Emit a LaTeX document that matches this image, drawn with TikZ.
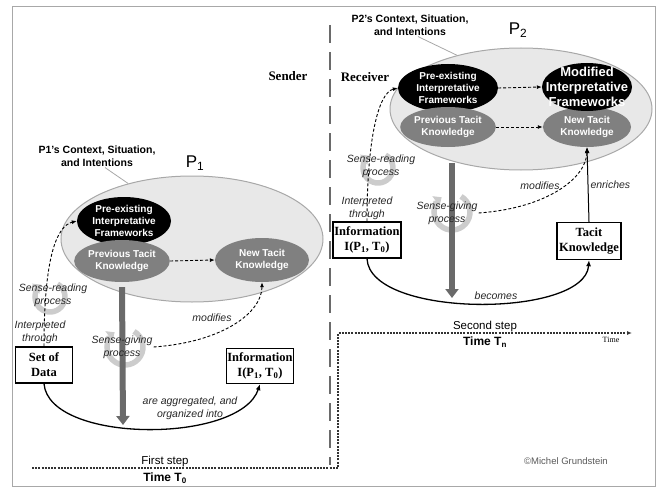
\documentclass[tikz,border=0pt]{standalone}
\usepackage{fontspec}
\setmainfont{Liberation Sans}
\newfontfamily\timesfont{Liberation Serif}
\usepackage{tikz}
\usetikzlibrary{shapes,arrows,positioning,calc,arrows.meta}

\definecolor{ctxfill}{HTML}{E8E8E8}
\definecolor{ctxline}{HTML}{A8A8A8}
\definecolor{tacitgray}{HTML}{808080}
\definecolor{bargray}{HTML}{6A6A6A}
\definecolor{icongray}{HTML}{CCCCCC}
\definecolor{lblgray}{HTML}{262626}

\tikzset{
  ctxell/.style={ellipse, draw=ctxline, fill=ctxfill, line width=1pt, inner sep=0pt},
  frameell/.style={ellipse, fill=black, text=white, inner sep=0pt, align=center,
    font=\bfseries\fontsize{10}{12}\selectfont},
  tacitell/.style={ellipse, fill=tacitgray, text=white, inner sep=0pt, align=center,
    font=\bfseries\fontsize{10}{12}\selectfont},
  modtxt/.style={text=white, align=center, inner sep=0pt,
    font=\bfseries\fontsize{13}{15}\selectfont},
  ctxlbl/.style={align=center, inner sep=1pt, font=\bfseries\fontsize{10.5}{13}\selectfont},
  plbl/.style={font=\fontsize{17}{19}\selectfont},
  databox/.style={draw, line width=1.4pt, fill=white, inner sep=1pt, align=center,
    font=\timesfont\bfseries\fontsize{12.5}{15}\selectfont},
  sidelbl/.style={font=\timesfont\bfseries\fontsize{13}{15}\selectfont},
  flowlbl/.style={text=lblgray, align=center, inner sep=1pt, font=\itshape\fontsize{10.5}{13}\selectfont},
  dasharrow/.style={dash pattern=on 3pt off 2pt, line width=0.9pt, -{Latex[length=5pt,width=4pt]}},
  solidarrow/.style={line width=1.3pt, -{Latex[length=6pt,width=5pt]}},
  bigarrow/.style={draw=bargray, line width=6pt, -{Triangle[length=9pt,width=13pt]}},
  cycicon/.style={draw=icongray, line width=5.5pt, -{Triangle[length=7pt,width=12pt]}},
  timeline/.style={dash pattern=on 2pt off 1.2pt, line width=1.1pt, draw=black!80},
}

\begin{document}
\begin{tikzpicture}[x=1pt, y=-1pt]
  \useasboundingbox (0,0) rectangle (659,487);
  \draw[ctxline, line width=1pt] (12,7) rectangle (655,486);

  % sender / receiver
  \coordinate (divtop) at (330,25);
  \coordinate (divbot) at (330,465);
  \draw[bargray, line width=2.5pt, dash pattern=on 18pt off 9pt] (divtop) -- (divbot);
  \node[sidelbl] (sender) at (288,76) {Sender};
  \node[sidelbl] (receiver) at (365,77) {Receiver};

  % P1
  \node[ctxell, minimum width=262pt, minimum height=126pt] (ctx1) at (192,239) {};
  \node[ctxlbl] (ctx1lbl) at (97,156) {P1's Context, Situation,\\and Intentions};
  \draw[ctxline, line width=0.8pt] ([xshift=8pt]ctx1lbl.south) -- (ctx1.139);
  \node[plbl] (p1) at (195,163) {P\textsubscript{1}};
  \node[frameell, minimum width=94pt, minimum height=48pt] (pre1) at (124,221) {Pre-existing\\Interpretative\\Frameworks};
  \node[tacitell, minimum width=92pt, minimum height=42pt] (prev1) at (122,261) {Previous Tacit\\Knowledge};
  \node[tacitell, minimum width=94pt, minimum height=44pt] (new1) at (262,260) {New Tacit\\Knowledge};

  % P2
  \node[ctxell, minimum width=262pt, minimum height=122pt] (ctx2) at (521,109) {};
  \node[ctxlbl] (ctx2lbl) at (410,25) {P2's Context, Situation,\\and Intentions};
  \draw[ctxline, line width=0.8pt] ([xshift=8pt]ctx2lbl.south) -- (ctx2.140);
  \node[plbl] (p2) at (518,30) {P\textsubscript{2}};
  \node[frameell, minimum width=100pt, minimum height=48pt] (pre2) at (448,88) {Pre-existing\\Interpretative\\Frameworks};
  \node[tacitell, minimum width=92pt, minimum height=40pt] (prev2) at (448,127) {Previous Tacit\\Knowledge};
  \node[tacitell, minimum width=88pt, minimum height=40pt] (new2) at (587,127) {New Tacit\\Knowledge};
  \node[frameell, minimum width=90pt, minimum height=48pt] (mod2) at (587,87) {};
  \node[modtxt] (mod2lbl) at (mod2) {Modified\\Interpretative\\Frameworks};

  % turning icons
  \coordinate (sr1c) at (50,297);
  \coordinate (sg1c) at (125,347);
  \coordinate (sr2c) at (378,168);
  \coordinate (sg2c) at (452,212);
  \draw[cycicon] (sr1c) ++(-60:15) arc[start angle=-60, end angle=235, radius=15];
  \draw[cycicon] (sg1c) ++(-60:18) arc[start angle=-60, end angle=235, radius=18];
  \draw[cycicon] (sr2c) ++(-60:15) arc[start angle=-60, end angle=235, radius=15];
  \draw[cycicon] (sg2c) ++(-60:18) arc[start angle=-60, end angle=235, radius=18];

  % sense-giving bars
  \coordinate (sgend1) at (123,425);
  \coordinate (sgtop2) at (452,163);
  \coordinate (sgend2) at (452,298);
  \draw[bigarrow] ([yshift=-5pt]prev1.south) -- (sgend1);
  \draw[bigarrow] (sgtop2) -- (sgend2);

  % boxes
  \node[databox, minimum width=57pt, minimum height=36pt] (setdata) at (44,365) {Set of\\Data};
  \node[databox, minimum width=67pt, minimum height=35pt] (info1) at (260,366) {Information\\I(P\textsubscript{1}, T\textsubscript{0})};
  \node[databox, minimum width=68pt, minimum height=36pt] (info2) at (367,240) {Information\\I(P\textsubscript{1}, T\textsubscript{0})};
  \node[databox, minimum width=64pt, minimum height=37pt] (tacit) at (589,241) {Tacit\\Knowledge};

  % labels
  \node[flowlbl] (sr1) at (53,295) {Sense-reading\\process};
  \node[flowlbl] (thr1) at (40,332) {Interpreted\\through};
  \node[flowlbl] (sg1) at (122,347) {Sense-giving\\process};
  \node[flowlbl] (mod1l) at (212,318) {modifies};
  \node[flowlbl] (aggr) at (190,408) {are aggregated, and\\organized into};
  \node[flowlbl] (sr2) at (381,166) {Sense-reading\\process};
  \node[flowlbl] (thr2) at (367,208) {Interpreted\\through};
  \node[flowlbl] (sg2) at (447,213) {Sense-giving\\process};
  \node[flowlbl] (mod2l) at (540,186) {modifies};
  \node[flowlbl] (becomes) at (496,296) {becomes};

  % connectors
  \draw[dasharrow] (prev1.east) -- (new1.west);
  \draw[dasharrow] (pre2.east) -- (mod2.west);
  \draw[dasharrow] (prev2.east) -- (new2.west);
  \draw[dasharrow] (setdata.north) .. controls +(0,-90) and +(-20,5) .. (pre1.west);
  \draw[dasharrow] (info2.north) .. controls +(0,-80) and +(-20,5) .. (pre2.west);
  \draw[dasharrow] (sg1.east) .. controls +(70,-5) and +(0,30) .. (new1.south);
  \draw[dasharrow] (sg2.east) .. controls +(70,-5) and +(0,30) .. (new2.south);
  \draw[solidarrow] (setdata.south) .. controls +(5,60) and +(-20,60) .. (info1.south);
  \draw[solidarrow] (info2.south) .. controls +(3,60) and +(-4,58) .. (tacit.south);
  \draw[line width=1pt, -{Latex[length=6pt,width=5pt]}] (tacit.north) -- (new2.south)
    node[flowlbl, midway, right=1pt] (enrich) {enriches};

  % time line
  \coordinate (t0) at (32,468);
  \coordinate (tturn) at (338,468);
  \coordinate (tup) at (338,333);
  \coordinate (tend) at (632,333);
  \draw[timeline, -{Latex[length=5pt,width=4pt]}] (t0) -- (tturn) -- (tup) -- (tend);
  \node[font=\fontsize{11.5}{13}\selectfont] (step1) at (165,462) {First step};
  \node[font=\bfseries\fontsize{12}{14}\selectfont] (time0) at (165,478) {Time T\textsubscript{0}};
  \node[font=\fontsize{11.5}{13}\selectfont] (step2) at (485,327) {Second step};
  \node[font=\bfseries\fontsize{12}{14}\selectfont] (timen) at (485,342) {Time T\textsubscript{n}};
  \node[font=\timesfont\fontsize{8}{9}\selectfont] (timeax) at (611,340) {Time};

  \node[text=black!65, font=\fontsize{9.5}{11}\selectfont] (copy) at (566,461) {©Michel Grundstein};
\end{tikzpicture}
\end{document}
